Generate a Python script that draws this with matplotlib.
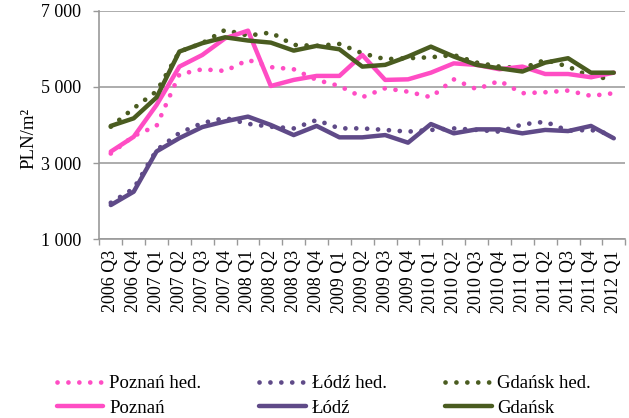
import matplotlib.pyplot as plt
from matplotlib.ticker import FixedLocator, FuncFormatter

# dane
quarters = ["2006 Q3", "2006 Q4",
            "2007 Q1", "2007 Q2", "2007 Q3", "2007 Q4",
            "2008 Q1", "2008 Q2", "2008 Q3", "2008 Q4",
            "2009 Q1", "2009 Q2", "2009 Q3", "2009 Q4",
            "2010 Q1", "2010 Q2", "2010 Q3", "2010 Q4",
            "2011 Q1", "2011 Q2", "2011 Q3", "2011 Q4",
            "2012 Q1"]

poznan_hed = [3250, 3710, 3975, 5330, 5465, 5420, 5710, 5520, 5465, 5185, 5025, 4730,
              4965, 4875, 4730, 5200, 4940, 5160, 4835, 4860, 4905, 4765, 4835]
lodz_hed = [1955, 2330, 3340, 3790, 4050, 4185, 4030, 3955, 3910, 4130, 3910, 3910,
            3870, 3825, 3870, 3910, 3870, 3825, 4015, 4085, 3850, 3870, 3740]
gdansk_hed = [3955, 4440, 4885, 5930, 6150, 6500, 6350, 6430, 6105, 6080, 6130, 5885,
              5730, 5755, 5780, 5840, 5640, 5535, 5490, 5710, 5535, 5270, 5210]
poznan = [3300, 3690, 4525, 5535, 5840, 6280, 6480, 5025, 5185, 5290, 5290, 5840,
          5185, 5200, 5375, 5620, 5580, 5465, 5535, 5340, 5340, 5255, 5375]
lodz = [1895, 2245, 3305, 3655, 3945, 4095, 4220, 4000, 3735, 3975, 3675, 3675,
        3735, 3535, 4025, 3780, 3885, 3885, 3780, 3870, 3840, 3975, 3650]
gdansk = [3975, 4175, 4725, 5930, 6150, 6305, 6220, 6165, 5955, 6080, 5990, 5535,
          5580, 5800, 6060, 5800, 5580, 5490, 5405, 5640, 5755, 5375, 5375]

c_poz = "#ff4dc4"
c_lodz = "#5f4a88"
c_gd = "#4a5c20"

plt.rcParams['font.family'] = ['Liberation Serif', 'DejaVu Serif']

fig = plt.figure(figsize=(6.29, 4.18), dpi=100)
ax = fig.add_axes([0.158, 0.428, 0.836, 0.546])

x = list(range(len(quarters)))
dot = (0, (0.01, 2.3))
lines = {}
for name, vals, col in [("Poznań hed.", poznan_hed, c_poz),
                        ("Łódź hed.", lodz_hed, c_lodz),
                        ("Gdańsk hed.", gdansk_hed, c_gd)]:
    lines[name], = ax.plot(x, vals, color=col, lw=3.4, linestyle=dot,
                           dash_capstyle="round", label=name)
for name, vals, col in [("Poznań", poznan, c_poz),
                        ("Łódź", lodz, c_lodz),
                        ("Gdańsk", gdansk, c_gd)]:
    lines[name], = ax.plot(x, vals, color=col, lw=3.2, solid_capstyle="round",
                           label=name)

ax.set_xlim(-0.5, len(quarters) - 0.5)
ax.set_ylim(1000, 7000)
ax.set_yticks([1000, 3000, 5000, 7000])
ax.yaxis.set_major_formatter(FuncFormatter(lambda v, p: f"{int(v):,}".replace(",", " ")))
ax.grid(axis="y", color="#a6a6a6", lw=1.3)
ax.set_axisbelow(True)

ax.set_xticks(x)
ax.set_xticklabels(quarters, rotation=90, fontsize=13)
ax.xaxis.set_minor_locator(FixedLocator([i - 0.5 for i in range(len(quarters) + 1)]))
ax.tick_params(axis="x", which="major", length=0, pad=8)
ax.tick_params(axis="x", which="minor", length=4, color="#999999", width=1)
ax.tick_params(axis="y", length=4, color="#999999", width=1, pad=9, labelsize=13)

for s in ["top", "right"]:
    ax.spines[s].set_visible(False)
for s in ["left", "bottom"]:
    ax.spines[s].set_color("#999999")
    ax.spines[s].set_linewidth(1.2)

ax.set_ylabel("PLN/m²", fontsize=13.5)
ax.yaxis.set_label_coords(-0.118, 0.44)

order = ["Poznań hed.", "Poznań", "Łódź hed.", "Łódź", "Gdańsk hed.", "Gdańsk"]
fig.legend([lines[n] for n in order], order, ncol=3, frameon=False,
           loc="upper left", bbox_to_anchor=(0.075, 0.125), borderpad=0,
           fontsize=13.5, handlelength=2.5, handletextpad=0.3,
           columnspacing=3.1, labelspacing=0.4)

plt.savefig("out.png", dpi=100)
